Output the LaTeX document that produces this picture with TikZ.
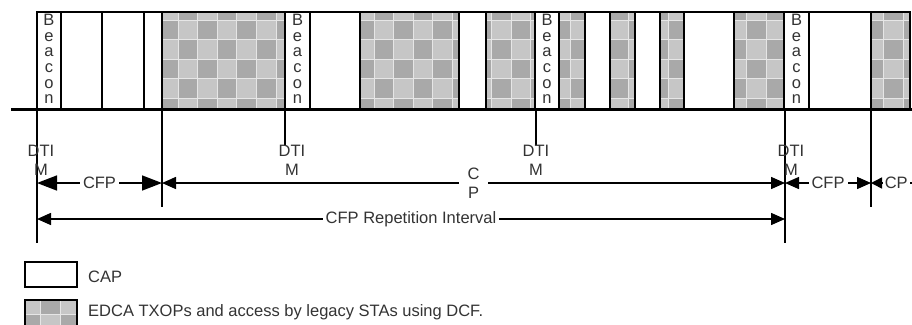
\documentclass[tikz,border=0pt]{standalone}
\usepackage{fontspec}
\setmainfont{Liberation Sans}
\usepackage{tikz}
\usetikzlibrary{arrows.meta,calc}

\definecolor{txtgray}{HTML}{333333}
\definecolor{edcadark}{HTML}{A9A9A9}
\definecolor{edcalight}{HTML}{C6C6C6}
\definecolor{edcagrid}{HTML}{E6E6E6}

\tikzset{
  slot/.style={draw=black, line width=1.6bp, fill=white},
  marker/.style={draw=black, line width=1.5bp},
  lbl/.style={text=txtgray, font=\fontsize{16.5bp}{19bp}\selectfont, inner sep=0pt},
  beacon/.style={text=txtgray, font=\fontsize{16.5bp}{15.6bp}\selectfont, inner sep=0pt, align=center},
  gap/.style={lbl, fill=white, inner xsep=3bp, inner ysep=1bp},
  dim/.style={line width=1.5bp, {Triangle[length=14bp,width=12bp]}-{Triangle[length=14bp,width=12bp]}},
  dimbig/.style={line width=1.5bp, {Triangle[length=20bp,width=15bp]}-{Triangle[length=20bp,width=15bp]}},
  dimleft/.style={line width=1.5bp, {Triangle[length=11bp,width=11bp]}-},
}

% checkered fill for the EDCA periods, x1 y1 x2 y2
\newcommand{\edcablock}[4]{%
  \fill[edcadark] (#1,#2) rectangle (#3,#4);
  \begin{scope}
    \clip (#1,#2) rectangle (#3,#4);
    \pgfmathtruncatemacro\ia{floor((#1-1.6)/19.6)}
    \pgfmathtruncatemacro\ib{floor((#3-1.6)/19.6)}
    \pgfmathtruncatemacro\ja{floor((#2-0.4)/19.6)}
    \pgfmathtruncatemacro\jb{floor((#4-0.4)/19.6)}
    \foreach \i in {\ia,...,\ib}{
      \foreach \j in {\ja,...,\jb}{
        \pgfmathtruncatemacro\k{mod(\i+\j,2)}
        \ifnum\k=0 \fill[edcalight] ({1.6+19.6*\i},{0.4+19.6*\j}) rectangle ++(19.6,19.6);\fi
      }
      \draw[edcagrid, line width=0.8bp] ({1.6+19.6*\i},#2) -- ({1.6+19.6*\i},#4);
    }
    \foreach \j in {\ja,...,\jb}
      \draw[edcagrid, line width=0.8bp] (#1,{0.4+19.6*\j}) -- (#3,{0.4+19.6*\j});
  \end{scope}}

\begin{document}
\begin{tikzpicture}[x=1bp,y=-1bp]
  \useasboundingbox (0,0) rectangle (912,324);

  % beacons and CAP slots
  \foreach \a/\b in {37/61,285/310,535/559,784/809,61/102,102/144,144/162,310/360,459/486,585/610,635/660,684/734,809/871}
    \draw[slot] (\a,12) rectangle (\b,109);
  % EDCA slots
  \foreach \a/\b in {162/285,360/459,486/535,559/585,610/635,660/684,734/784,871/910}{
    \edcablock{\a}{12}{\b}{109}
    \draw[slot, fill=none] (\a,12) rectangle (\b,109);
  }

  \node[beacon] (bcn1) at (49,59) {B\\e\\a\\c\\o\\n};
  \node[beacon] (bcn2) at (297.5,59) {B\\e\\a\\c\\o\\n};
  \node[beacon] (bcn3) at (547,59) {B\\e\\a\\c\\o\\n};
  \node[beacon] (bcn4) at (796.5,59) {B\\e\\a\\c\\o\\n};

  % time line
  \draw[line width=3bp] (11,109) -- (912,109);

  % markers below the time line
  \coordinate (m1) at (37,243);
  \coordinate (m2) at (162,207);
  \coordinate (m3) at (285,145);
  \coordinate (m4) at (536,145);
  \coordinate (m5) at (785,243);
  \coordinate (m6) at (871,207);
  \foreach \m in {m1,m2,m3,m4,m5,m6}
    \draw[marker] (\m |- 0,109) -- (\m);

  \node[lbl, align=center] (dtim1) at (41,160) {DTI\\M};
  \node[lbl, align=center] (dtim2) at (292,160) {DTI\\M};
  \node[lbl, align=center] (dtim3) at (536,160) {DTI\\M};
  \node[lbl, align=center] (dtim4) at (791,160) {DTI\\M};

  % periods
  \coordinate (cfpA) at (37,183);
  \coordinate (cfpB) at (162,183);
  \coordinate (cfpC) at (785,183);
  \coordinate (cfpD) at (871,183);
  \coordinate (cpEnd) at (913,183);
  \coordinate (repA) at (37,219);
  \coordinate (repB) at (785,219);

  \draw[dimbig] (cfpA) -- node[gap] (cfp1) {CFP} (cfpB);
  \draw[dim] (cfpB) -- node[gap, align=center, inner xsep=9bp] (cp1) {C\\P} (cfpC);
  \draw[dim] (cfpC) -- node[gap] (cfp2) {CFP} (cfpD);
  \draw[dimleft] (cfpD) -- node[gap, pos=0.6, inner xsep=2bp] (cp2) {CP} (cpEnd);
  \draw[dim] (repA) -- node[gap] (rep) {CFP Repetition Interval} (repB);

  % legend
  \draw[slot] (25,262) rectangle (77,287);
  \node[lbl, anchor=base west] (capkey) at (88,282) {CAP};
  \edcablock{25}{300}{77}{326}
  \draw[slot, fill=none] (25,300) rectangle (77,326);
  \node[lbl, anchor=base west] (edcakey) at (88,316) {EDCA TXOPs and access by legacy STAs using DCF.};
\end{tikzpicture}
\end{document}
